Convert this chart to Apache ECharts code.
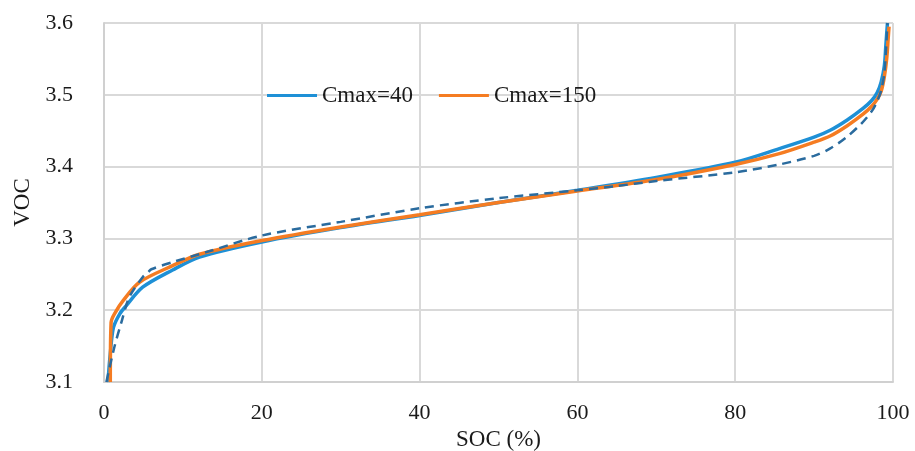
<!DOCTYPE html>
<html>
<head>
<meta charset="utf-8">
<script src="https://cdn.jsdelivr.net/npm/echarts@6/dist/echarts.min.js"></script>
<style>
  html, body { margin: 0; padding: 0; background: #fff; }
  #chart { width: 915px; height: 451px; }
</style>
</head>
<body>
<div id="chart"></div>
<script>
// Cmax=40 (blue)
const socC40 = [0.5, 0.8, 1.2, 2, 2.8, 4.9, 8.7, 12.1, 20, 30, 40, 50, 60, 70, 80, 85.6, 90, 92.1, 94.2, 96.2, 97.3, 98.0, 98.5, 98.9, 99.1, 99.3];
const vocC40 = [3.100, 3.140, 3.176, 3.195, 3.206, 3.232, 3.256, 3.274, 3.295, 3.315, 3.332, 3.350, 3.367, 3.385, 3.406, 3.425, 3.441, 3.451, 3.465, 3.481, 3.492, 3.503, 3.518, 3.540, 3.570, 3.600];
// Cmax=150 (orange)
const socC150 = [0.8, 0.9, 1.5, 2.4, 4.5, 8.7, 12.1, 20, 30, 40, 50, 60, 70, 80, 85.6, 90, 92.1, 94.2, 96.2, 97.3, 98.0, 98.5, 98.9, 99.2, 99.4, 99.5];
const vocC150 = [3.100, 3.183, 3.198, 3.213, 3.239, 3.262, 3.278, 3.297, 3.316, 3.333, 3.350, 3.366, 3.382, 3.403, 3.418, 3.434, 3.443, 3.457, 3.473, 3.484, 3.494, 3.505, 3.525, 3.550, 3.580, 3.595];
// measured (dashed)
const socMeas = [0.3, 1.3, 2.2, 3.2, 4.9, 5.6, 6.0, 8.7, 13, 20, 30, 40, 50, 60, 65, 70, 80, 85.6, 90, 92, 94, 96, 97.3, 98.0, 98.5, 98.9, 99.1, 99.3];
const vocMeas = [3.100, 3.148, 3.183, 3.218, 3.246, 3.253, 3.257, 3.267, 3.281, 3.304, 3.323, 3.342, 3.356, 3.367, 3.373, 3.380, 3.392, 3.403, 3.415, 3.425, 3.440, 3.460, 3.477, 3.491, 3.506, 3.530, 3.560, 3.600];

const xTicks = [0, 20, 40, 60, 80, 100];
const yTicks = [3.1, 3.2, 3.3, 3.4, 3.5, 3.6];

const zip = (xs, ys) => xs.map((x, i) => [x, ys[i]]);
const font = "'Liberation Serif', 'DejaVu Serif', serif";
const ink = '#1a1a1a';

const chart = echarts.init(document.getElementById('chart'));
chart.setOption({
  animation: false,
  grid: { left: 104, right: 22, top: 23, bottom: 69, containLabel: false, outerBoundsMode: 'none' },
  legend: {
    data: ['Cmax=40', 'Cmax=150'],
    left: 262,
    top: 79,
    icon: 'rect',
    itemWidth: 50,
    itemHeight: 3,
    itemGap: 26,
    textStyle: { fontFamily: font, fontSize: 23, color: ink }
  },
  xAxis: {
    type: 'value',
    min: xTicks[0],
    max: xTicks[xTicks.length - 1],
    interval: 20,
    name: 'SOC (%)',
    nameLocation: 'middle',
    nameGap: 44,
    nameTextStyle: { fontFamily: font, fontSize: 23, color: ink },
    axisLine: { show: true, lineStyle: { color: '#d0d0d0', width: 2 } },
    axisTick: { show: false },
    axisLabel: { fontFamily: font, fontSize: 22, color: ink, margin: 20 },
    splitLine: { show: true, lineStyle: { color: '#d9d9d9', width: 2 } }
  },
  yAxis: {
    type: 'value',
    min: yTicks[0],
    max: yTicks[yTicks.length - 1],
    interval: 0.1,
    name: 'VOC',
    nameLocation: 'middle',
    nameGap: 66,
    nameTextStyle: { fontFamily: font, fontSize: 23, color: ink },
    axisLine: { show: true, lineStyle: { color: '#d0d0d0', width: 2 } },
    axisTick: { show: false },
    axisLabel: {
      fontFamily: font, fontSize: 22, color: ink, margin: 31,
      formatter: v => v.toFixed(1)
    },
    splitLine: { show: true, lineStyle: { color: '#d9d9d9', width: 2 } }
  },
  series: [
    {
      name: 'Cmax=40',
      type: 'line',
      data: zip(socC40, vocC40),
      smooth: 0.3,
      showSymbol: false,
      itemStyle: { color: '#1e90d6' },
      lineStyle: { color: '#1e90d6', width: 3.5 }
    },
    {
      name: 'Cmax=150',
      type: 'line',
      data: zip(socC150, vocC150),
      smooth: 0.3,
      showSymbol: false,
      itemStyle: { color: '#f57c22' },
      lineStyle: { color: '#f57c22', width: 3.5 }
    },
    {
      name: 'measured',
      type: 'line',
      data: zip(socMeas, vocMeas),
      smooth: 0.3,
      showSymbol: false,
      itemStyle: { color: '#2a6b9e' },
      lineStyle: { color: '#2a6b9e', width: 2.5, type: [9, 6] }
    }
  ]
});
</script>
</body>
</html>
